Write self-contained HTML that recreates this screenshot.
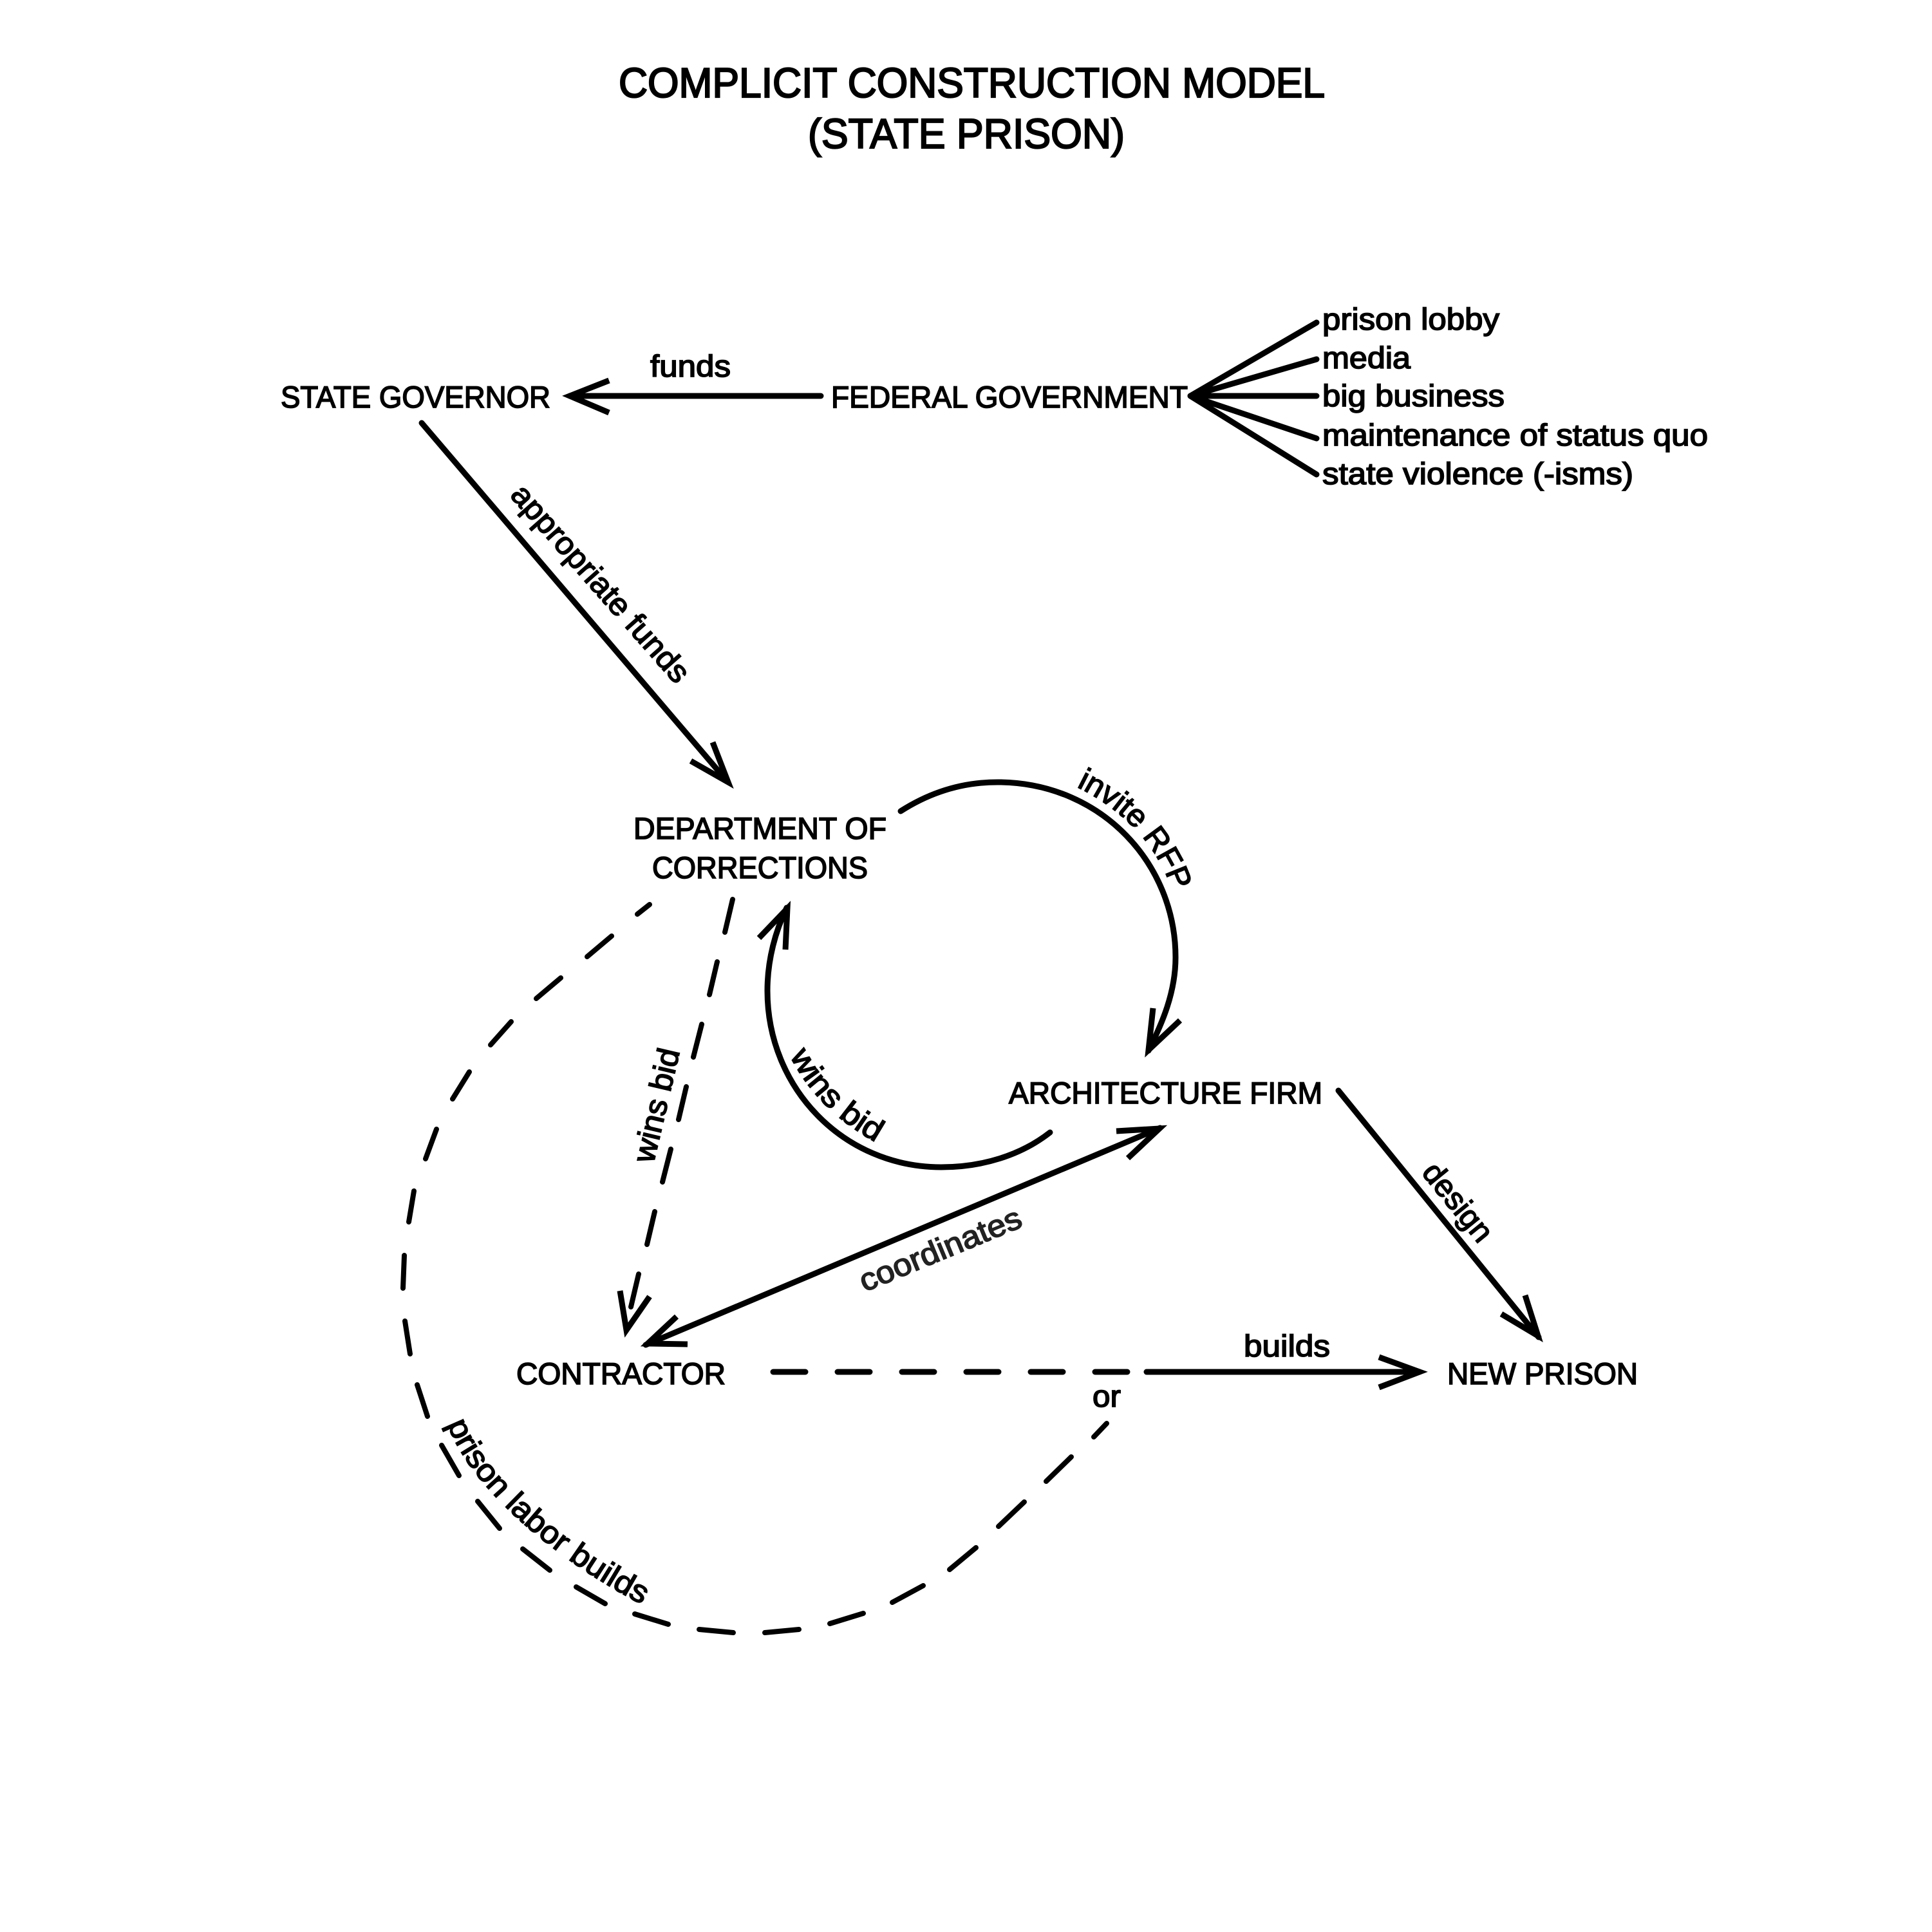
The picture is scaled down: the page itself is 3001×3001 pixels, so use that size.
<!DOCTYPE html>
<html><head><meta charset="utf-8"><style>
html,body{margin:0;padding:0;background:#fff}
svg{display:block}
text{font-family:"Liberation Sans",sans-serif;font-size:47.5px;fill:#000;stroke:#000;stroke-width:1.7px}
.t{font-size:65px;stroke-width:2.3px}
.r{font-size:48.5px}
path{fill:none;stroke:#000;stroke-width:9;stroke-linecap:round;stroke-linejoin:miter;stroke-miterlimit:8}
.b{stroke-linecap:butt}
.d{stroke-width:8}
</style></head><body>
<svg width="3001" height="3001" viewBox="0 0 3001 3001" xmlns="http://www.w3.org/2000/svg">
<defs>
<path id="p1" d="M1672 1222Q1780 1275 1818 1375"/>
<path id="p2" d="M1227 1640Q1270 1725 1362 1775"/>
<path id="p3" d="M695 2212C730 2310 860 2420 993 2490"/>
</defs>
<rect width="3001" height="3001" fill="#fff"/>
<text class="t" x="961" y="151" textLength="1097" lengthAdjust="spacingAndGlyphs">COMPLICIT CONSTRUCTION MODEL</text>
<text class="t" x="1255" y="230" textLength="492" lengthAdjust="spacingAndGlyphs">(STATE PRISON)</text>

<text x="436" y="633" textLength="419" lengthAdjust="spacingAndGlyphs">STATE GOVERNOR</text>
<text x="1010" y="585" textLength="125" lengthAdjust="spacingAndGlyphs">funds</text>
<text x="1291" y="633" textLength="554" lengthAdjust="spacingAndGlyphs">FEDERAL GOVERNMENT</text>
<text x="2054" y="512" textLength="275" lengthAdjust="spacingAndGlyphs">prison lobby</text>
<text x="2054" y="572" textLength="137" lengthAdjust="spacingAndGlyphs">media</text>
<text x="2054" y="631" textLength="283" lengthAdjust="spacingAndGlyphs">big business</text>
<text x="2054" y="692" textLength="599" lengthAdjust="spacingAndGlyphs">maintenance of status quo</text>
<text x="2054" y="752" textLength="483" lengthAdjust="spacingAndGlyphs">state violence (-isms)</text>
<text x="984" y="1303" textLength="393" lengthAdjust="spacingAndGlyphs">DEPARTMENT OF</text>
<text x="1013" y="1364" textLength="335" lengthAdjust="spacingAndGlyphs">CORRECTIONS</text>
<text x="1567" y="1714" textLength="487" lengthAdjust="spacingAndGlyphs">ARCHITECTURE FIRM</text>
<text x="802" y="2150" textLength="325" lengthAdjust="spacingAndGlyphs">CONTRACTOR</text>
<text x="2248" y="2150" textLength="296" lengthAdjust="spacingAndGlyphs">NEW PRISON</text>
<text x="1697" y="2185" textLength="44" lengthAdjust="spacingAndGlyphs">or</text>
<text x="1932" y="2107" textLength="134" lengthAdjust="spacingAndGlyphs">builds</text>

<text class="r" transform="translate(791 770) rotate(48.6)" textLength="392" lengthAdjust="spacingAndGlyphs">appropriate funds</text>
<text class="r" transform="translate(1015 1808) rotate(-76.8)" textLength="180" lengthAdjust="spacingAndGlyphs">wins bid</text>
<text class="r" transform="translate(1343 2007) rotate(-22.5)" textLength="268" lengthAdjust="spacingAndGlyphs" style="fill:#222;stroke:#222">coordinates</text>
<text class="r" transform="translate(2207 1822) rotate(51)" textLength="143" lengthAdjust="spacingAndGlyphs">design</text>
<text class="r"><textPath href="#p1" textLength="227" lengthAdjust="spacingAndGlyphs">invite RFP</textPath></text>
<text class="r"><textPath href="#p2" textLength="192" lengthAdjust="spacingAndGlyphs">wins bid</textPath></text>
<text class="r"><textPath href="#p3" textLength="420" lengthAdjust="spacingAndGlyphs">prison labor builds</textPath></text>

<!-- funds arrow -->
<path d="M1275 615H885"/>
<path class="b" d="M946 591L885 615L946 641"/>
<!-- fan -->
<path d="M1849 615L2045 501M1849 615L2045 558M1849 615H2045M1849 615L2045 681M1849 615L2045 737"/>
<!-- governor arrow -->
<path d="M655 657L1130 1214"/>
<path class="b" d="M1107 1153L1131 1215L1073 1182"/>
<!-- invite RFP curve -->
<path d="M1399 1260C1452 1226 1505 1214 1555 1215C1712 1218 1826 1342 1826 1487C1826 1542 1805 1590 1784 1632"/>
<path class="b" d="M1791 1566L1784 1631L1833 1585"/>
<!-- wins bid curve -->
<path d="M1631 1759C1585 1795 1525 1813 1462 1813C1310 1813 1192 1690 1192 1539C1192 1490 1205 1445 1222 1410"/>
<path class="b" d="M1179 1457L1223 1411L1220 1475"/>
<!-- dashed doc to contractor -->
<path class="d" d="M1138 1397L1126 1448M1114 1494L1102 1545M1090 1591L1077 1642M1066 1688L1054 1739M1042 1785L1029 1836M1017 1882L1005 1933M992 1979L980 2030"/>
<path class="b" d="M963 2005L973 2066L1009 2014"/>
<!-- coordinates -->
<path d="M1003 2089L1802 1752"/>
<path class="b" d="M1734 1757L1801 1753L1752 1799"/>
<path class="b" d="M1051 2045L1006 2087L1068 2088"/>
<!-- design -->
<path d="M2079 1694L2390 2077"/>
<path class="b" d="M2369 2012L2389 2075L2332 2041"/>
<!-- horizontal -->
<path d="M1201 2131H1251M1301 2131H1351M1401 2131H1451M1501 2131H1551M1601 2131H1651M1701 2131H1751M1781 2131H2205"/>
<path class="b" d="M2142 2108L2205 2131L2142 2155"/>
<!-- big dashed curve -->
<path class="d" d="M1009 1405L990 1420M950 1454L912 1486M871 1519L833 1551M794 1587L762 1623M729 1665L703 1707M678 1754L661 1800M643 1850L635 1898M628 1950L626 2001M629 2052L637 2103M648 2151L664 2200M686 2245L713 2292M742 2332L776 2374M812 2406L854 2439M895 2465L940 2491M986 2507L1038 2523M1086 2531L1139 2536M1188 2536L1241 2531M1289 2522L1341 2506M1386 2489L1434 2463M1475 2438L1516 2404M1551 2371L1591 2333M1625 2301L1664 2263M1699 2232L1719 2211"/>
</svg>
</body></html>
